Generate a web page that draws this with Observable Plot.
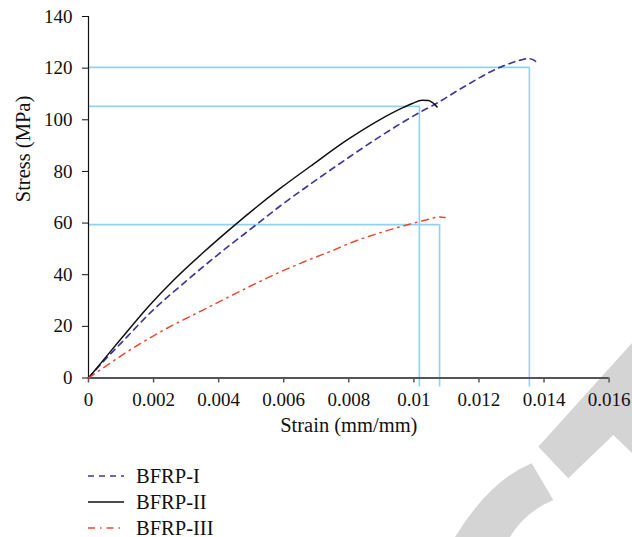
<!DOCTYPE html>
<html><head><meta charset="utf-8">
<script src="https://cdn.jsdelivr.net/npm/d3@7"></script>
<script src="https://cdn.jsdelivr.net/npm/@observablehq/plot@0.6"></script>
<style>
body{margin:0;background:#fff;font-family:"Liberation Serif","Tinos","DejaVu Serif","Noto Serif","Times New Roman",serif;color:#111;}
#wrap{position:relative;width:632px;height:537px;overflow:hidden;}
#wm{position:absolute;left:0;top:0;z-index:0;}
#chart{position:absolute;left:0;top:0;z-index:1;}
#legend{position:absolute;left:88px;top:463px;z-index:1;font-size:20.5px;}
.row{display:flex;align-items:center;height:26px;}
.row svg{margin-right:12px;}
</style></head><body>
<div id="wrap">
<svg id="wm" width="632" height="537">
  <polygon points="538.3,446.7 632,343 632,453 613.3,435 568.3,478.3" fill="#d4d4d4"/>
  <path d="M531.7,463.3 Q490,480 455,537 L510,537 Q525,512 553.3,500 Z" fill="#d4d4d4"/>
</svg>
<div id="chart"></div>
<div id="legend"></div>
</div>
<script>
// Data
const seriesNames = ["BFRP-I", "BFRP-II", "BFRP-III"];
const strainI  = [0, 0.0005, 0.001, 0.00196, 0.003, 0.004, 0.00516, 0.0059, 0.00682, 0.00795, 0.00892, 0.0102, 0.01065, 0.0115, 0.0127, 0.0133, 0.01352, 0.0137, 0.01383];
const stressI  = [0, 7, 13.5, 26, 37.5, 48, 59.4, 66.7, 75.1, 85, 93.2, 103, 106, 112.5, 120.6, 123.2, 123.7, 123.0, 121.6];
const strainII = [0, 0.0005, 0.001, 0.0019, 0.00256, 0.0035, 0.00455, 0.0059, 0.00682, 0.00795, 0.00892, 0.00968, 0.00995, 0.01025, 0.01045, 0.01058, 0.01071];
const stressII = [0, 7.6, 15.2, 28.5, 37.2, 48.3, 59.8, 73.5, 82.0, 92.2, 99.8, 104.8, 106.3, 107.6, 107.5, 106.6, 105];
const strainIII = [0, 0.0005, 0.001, 0.00226, 0.0035, 0.0045, 0.0059, 0.00682, 0.00764, 0.00795, 0.009, 0.01018, 0.0104, 0.0106, 0.01075, 0.01096];
const stressIII = [0, 4.3, 8.6, 18.2, 26.2, 32.6, 41.1, 46, 50.1, 51.8, 56.4, 60.6, 61.3, 62.0, 62.4, 62.2];
const refStrain = [0.01355, 0.01017, 0.01079];
const refStress = [120.3, 105.2, 59.4];
const xTicks = [0, 0.002, 0.004, 0.006, 0.008, 0.01, 0.012, 0.014, 0.016];
const yTicks = [0, 20, 40, 60, 80, 100, 120, 140];
const xLabel = "Strain (mm/mm)";
const yLabel = "Stress (MPa)";

const styles = {
  "BFRP-I":   {stroke: "#40399a", strokeWidth: 1.7, dash: "6,5"},
  "BFRP-II":  {stroke: "#111111", strokeWidth: 1.5, dash: null},
  "BFRP-III": {stroke: "#ec4a2f", strokeWidth: 1.5, dash: "7,5,1.5,5"}
};

const toRows = (xs, ys, s) => xs.map((x, i) => ({strain: x, stress: ys[i], series: s}));
const series = [
  toRows(strainI, stressI, "BFRP-I"),
  toRows(strainII, stressII, "BFRP-II"),
  toRows(strainIII, stressIII, "BFRP-III")
];
const refs = refStrain.map((x, i) => ({strain: x, stress: refStress[i]}));

const refColor = "#8fd2f2";
const fmt = d => String(Math.round(d * 1000) / 1000);
const fontStack = "'Liberation Serif','Tinos','DejaVu Serif','Noto Serif','Times New Roman',serif";

const lineMarks = series.map(rows => {
  const st = styles[rows[0].series];
  return Plot.line(rows, {x: "strain", y: "stress", stroke: st.stroke, strokeWidth: st.strokeWidth,
    strokeDasharray: st.dash || undefined, curve: "monotone-x"});
});

const chart = Plot.plot({
  width: 632, height: 450,
  marginLeft: 88, marginRight: 23.4, marginTop: 16, marginBottom: 72.5,
  style: {fontFamily: fontStack, fontSize: "19px", background: "transparent", color: "#111"},
  x: {domain: [0, 0.016]},
  y: {domain: [0, 140]},
  marks: [
    Plot.ruleY(refs, {y: "stress", x1: 0, x2: "strain", stroke: refColor, strokeWidth: 1.6}),
    Plot.ruleX(refs, {x: "strain", y1: "stress", y2: 0, stroke: refColor, strokeWidth: 1.6, insetBottom: -9}),
    Plot.axisY({ticks: yTicks, tickSize: 6, tickPadding: 10, label: null, stroke: "#111", fontSize: 19}),
    Plot.axisX({ticks: xTicks, tickSize: 5, tickPadding: 9, tickFormat: fmt, label: null, stroke: "#555", strokeWidth: 1.5, fontSize: 19}),
    Plot.ruleX([0], {stroke: "#111", strokeWidth: 1.2}),
    Plot.ruleY([0], {stroke: "#555", strokeWidth: 2}),
    ...lineMarks,
    Plot.text([xLabel], {frameAnchor: "bottom", dy: 54, fontSize: 20.5, fill: "#111"}),
    Plot.text([yLabel], {frameAnchor: "left", rotate: -90, dx: -65, dy: 5, fontSize: 20.5, fill: "#111"})
  ]
});
document.getElementById("chart").appendChild(chart);

// Legend
const legend = document.getElementById("legend");
seriesNames.forEach(name => {
  const st = styles[name];
  const row = document.createElement("div");
  row.className = "row";
  const ns = "http://www.w3.org/2000/svg";
  const sw = document.createElementNS(ns, "svg");
  sw.setAttribute("width", 36); sw.setAttribute("height", 10);
  const ln = document.createElementNS(ns, "line");
  ln.setAttribute("x1", 0); ln.setAttribute("x2", 36);
  ln.setAttribute("y1", 5); ln.setAttribute("y2", 5);
  ln.setAttribute("stroke", st.stroke);
  ln.setAttribute("stroke-width", st.strokeWidth);
  if (st.dash) ln.setAttribute("stroke-dasharray", st.dash);
  sw.appendChild(ln);
  const tx = document.createElement("span");
  tx.textContent = name;
  row.appendChild(sw); row.appendChild(tx);
  legend.appendChild(row);
});
</script>
</body></html>
